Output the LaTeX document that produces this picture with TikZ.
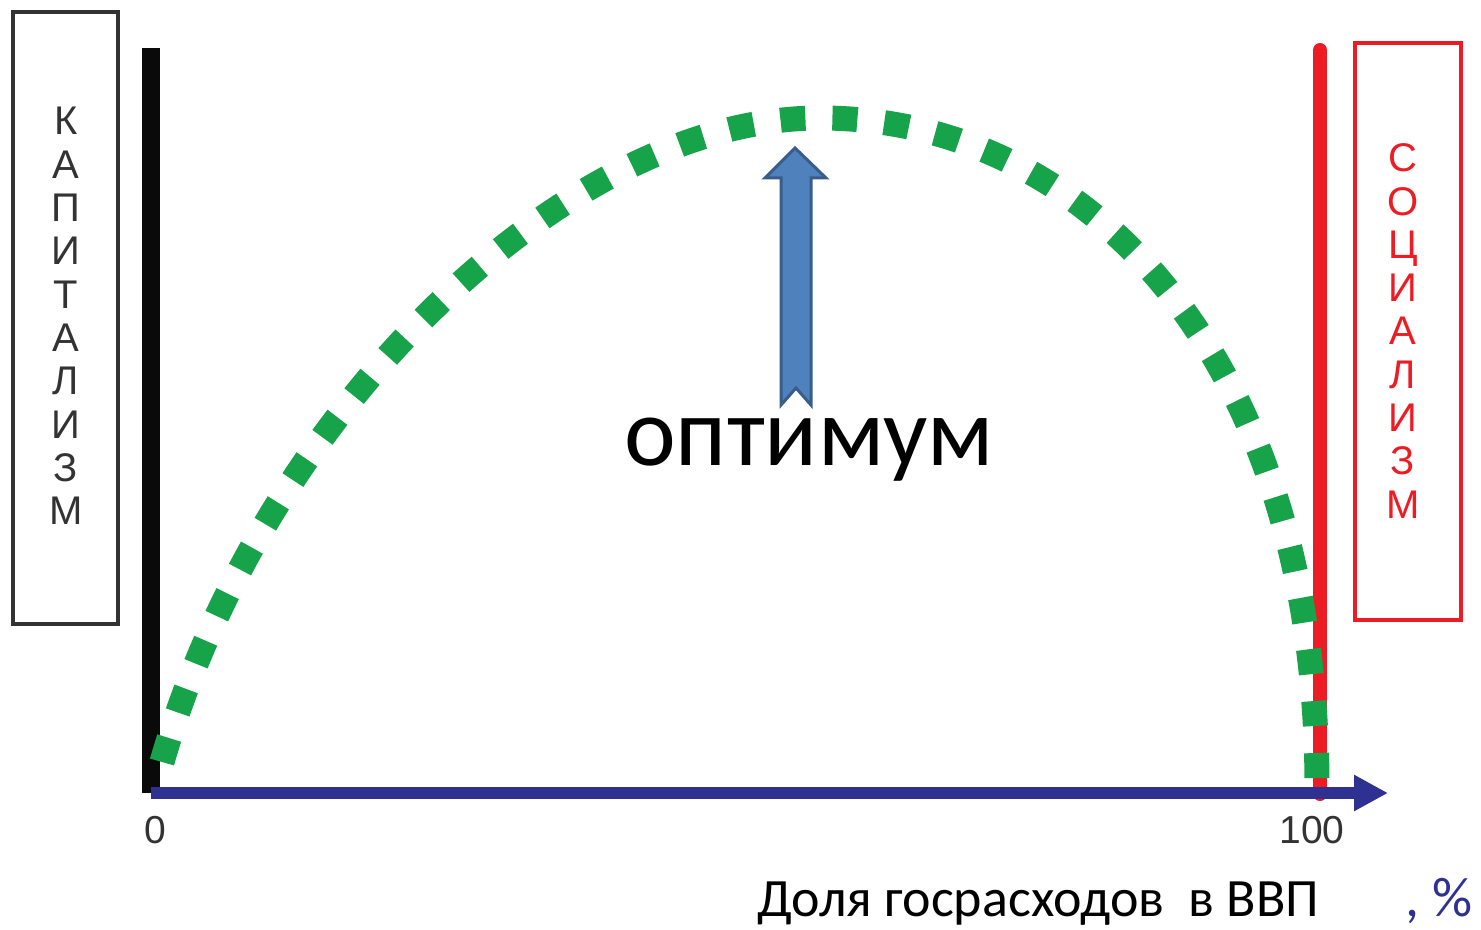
\documentclass[tikz,border=0pt]{standalone}
\usepackage{fontspec}
\setmainfont{Liberation Sans}
\newfontfamily\calib{Carlito}
\usetikzlibrary{arrows.meta}
\definecolor{grn}{HTML}{17A34A}
\definecolor{redc}{HTML}{ED1C24}
\definecolor{axisblue}{HTML}{2E3192}
\definecolor{boxgray}{HTML}{333333}
\definecolor{arrowfill}{HTML}{4F81BD}
\definecolor{arrowedge}{HTML}{385D8A}
\tikzset{
  frame/.style={draw=#1, line width=2pt, inner sep=0pt},
  vletters/.style={align=center, inner sep=0pt, font=\fontsize{20}{21.65}\selectfont},
  tick/.style={inner sep=0pt, text=boxgray, font=\fontsize{19.5}{22}\selectfont},
  bar/.style={line width=#1},
}
\begin{document}
\begin{tikzpicture}[x=0.5pt,y=-0.5pt]
\useasboundingbox (0,0) rectangle (1481,930);
% side boxes
\node[frame=boxgray, minimum width=52.5pt, minimum height=306pt] (capbox) at (65.5,318) {};
\node[vletters, text=boxgray] (captext) at (66,316) {К\\А\\П\\И\\Т\\А\\Л\\И\\З\\М};
\node[frame=redc, minimum width=53pt, minimum height=288.5pt] (socbox) at (1408,331.5) {};
\node[vletters, text=redc] (soctext) at (1403,331) {С\\О\\Ц\\И\\А\\Л\\И\\З\\М};
% bars
\coordinate (btop) at (151,48);
\coordinate (bbot) at (151,793);
\draw[bar=9pt, black!96] (btop) -- (bbot);
\coordinate (rtop) at (1320,50);
\coordinate (rbot) at (1320,794);
\draw[bar=7pt, redc, line cap=round] (rtop) -- (rbot);
% green curve
\draw[grn, line width=12.5pt, dash pattern=on 12.5pt off 13.5pt]
  (162,762) .. controls (260,420) and (560,118) .. (820,118)
  .. controls (1090,118) and (1317,360) .. (1317,788);
% axis
\coordinate (o) at (151,793);
\coordinate (xend) at (1388,793);
\draw[axisblue, line width=6pt, -{Triangle[length=17pt,width=17pt]}] (o) -- (xend);
% optimum arrow
\draw[fill=arrowfill, draw=arrowedge, line width=1.5pt, line join=miter]
  (795,148) -- (826,178) -- (811,178) -- (811,405) -- (796,388) -- (781,405)
  -- (781,178) -- (765,178) -- cycle;
% texts
\node[tick] (zero) at (155,830) {0};
\node[tick] (hundred) at (1312,830) {100};
\node[anchor=base, inner sep=0pt, font=\calib\fontsize{49}{58}\selectfont] (opt) at (809,465) {оптимум};
\node[anchor=base west, inner sep=0pt, font=\calib\fontsize{27}{32}\selectfont] (xlabel) at (757,916) {Доля госрасходов\ \ в ВВП};
\node[anchor=base west, inner sep=0pt, text=axisblue, font=\calib\fontsize{28}{32}\selectfont] (pct) at (1405,916) {, \%};
\end{tikzpicture}
\end{document}
